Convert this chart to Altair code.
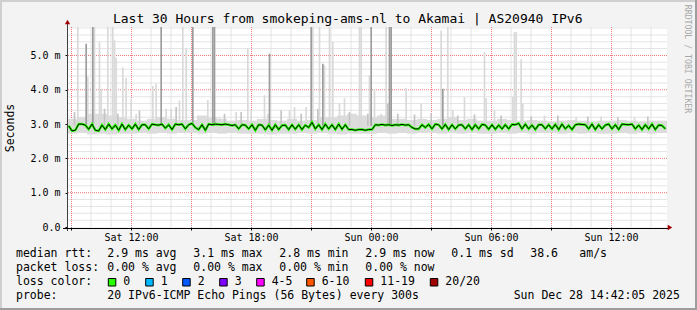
import altair as alt
import pandas as pd

FONT = "DejaVu Sans Mono"
W, H = 600, 200          # plot area (px)
LEFT, TOP = 67, 27       # plot origin inside the 697x310 page
X_MAX = 1800             # minutes since Sat 08:48 (30 hours)
Y_MAX = 5.83             # ms

# ---------------- text ----------------
title_text = "Last 30 Hours from smokeping-ams-nl to Akamai | AS20940 IPv6"
y_title = "Seconds"
side_text = "RRDTOOL / TOBI OETIKER"

tick_minutes = [12, 192, 372, 552, 732, 912, 1092, 1272, 1452, 1632]
tick_labels = ["", "Sat 12:00", "", "Sat 18:00", "", "Sun 00:00", "", "Sun 06:00", "", "Sun 12:00"]
y_ticks = [0, 1, 2, 3, 4, 5]
y_labels = ["0.0", "1.0 m", "2.0 m", "3.0 m", "4.0 m", "5.0 m"]

# legend rows: (text, absolute x, absolute y-center)
legend_items = [
    ("median rtt:", 16, 254), ("2.9 ms avg", 107.3, 254), ("3.1 ms max", 193.3, 254),
    ("2.8 ms min", 279.3, 254), ("2.9 ms now", 365.3, 254), ("0.1 ms sd", 451.3, 254),
    ("38.6", 530.3, 254), ("am/s", 579.3, 254),
    ("packet loss:", 16, 268), ("0.00 % avg", 107.3, 268), ("0.00 % max", 193.3, 268),
    ("0.00 % min", 279.3, 268), ("0.00 % now", 365.3, 268),
    ("loss color:", 16, 282),
    ("probe:", 16, 296), ("20 IPv6-ICMP Echo Pings (56 Bytes) every 300s", 107.3, 296),
    ("Sun Dec 28 14:42:05 2025", 513.7, 296),
]
loss_labels = ["0", "1", "2", "3", "4-5", "6-10", "11-19", "20/20"]
loss_colors = ["#26ff00", "#00b8ff", "#0059ff", "#7e00ff", "#ff00ff", "#ff5500", "#ff0000", "#a10000"]
loss_box_x = [108.3, 145.7, 182.7, 219.7, 256.7, 306.7, 365.3, 430.3]

# ---------------- data ----------------
# median rtt (ms), one value per 10 minutes
median = [
    2.95, 2.80, 2.82, 3.00, 3.00, 2.97, 2.85, 3.00, 2.82, 2.80, 2.97, 2.84, 3.00, 2.86, 2.97, 2.82, 3.00, 2.84,
    2.97, 2.86, 3.00, 2.84, 2.98, 2.98, 2.86, 3.00, 2.98, 2.97, 3.00, 2.88, 2.98, 2.84, 3.00, 2.98, 3.00, 2.86,
    2.98, 3.02, 2.90, 2.84, 2.98, 2.82, 3.00, 2.98, 3.00, 2.99, 2.98, 3.00, 2.98, 2.96, 2.98, 2.86, 2.98, 2.97,
    2.86, 2.98, 2.82, 2.98, 2.97, 2.83, 2.97, 2.82, 2.98, 2.84, 2.96, 2.97, 2.84, 2.98, 2.85, 2.98, 2.84, 2.97,
    2.90, 3.05, 2.86, 2.98, 2.84, 3.00, 2.86, 2.98, 2.84, 3.00, 2.85, 2.98, 2.84, 2.84, 2.82, 2.84, 2.84, 2.82,
    2.84, 2.84, 2.98, 2.97, 2.99, 2.97, 2.98, 2.96, 2.98, 2.97, 2.99, 2.97, 2.98, 2.90, 2.86, 2.86, 2.98, 2.90,
    2.99, 2.86, 3.00, 2.98, 2.86, 2.99, 2.84, 2.98, 2.86, 2.97, 2.98, 2.86, 2.98, 2.84, 2.98, 2.86, 2.99, 2.97,
    2.85, 2.98, 2.85, 2.97, 2.86, 2.98, 2.86, 2.99, 2.98, 3.02, 2.86, 3.00, 2.86, 2.97, 2.84, 2.98, 2.98, 2.86,
    2.98, 2.86, 2.99, 2.84, 3.00, 2.86, 2.96, 2.84, 2.98, 3.00, 2.99, 2.98, 2.86, 3.00, 2.84, 2.98, 2.86, 2.97,
    3.00, 2.86, 2.98, 2.84, 3.00, 2.99, 2.98, 3.00, 2.86, 2.97, 2.84, 2.98, 2.86, 3.00, 2.84, 2.97, 2.96, 2.86,
]
# smoke band (min..max of pings), one value per 30 minutes
band_hi = [
    3.15, 3.20, 3.30, 3.30, 3.25, 3.20,
    3.15, 3.10, 3.15, 3.20, 3.15, 3.12,
    3.12, 3.25, 3.20, 3.15, 3.10, 3.12,
    3.10, 3.15, 3.12, 3.10, 3.15, 3.10,
    3.12, 3.20, 3.20, 3.25, 3.30, 3.25,
    3.20, 3.25, 3.15, 3.15, 3.12, 3.15,
    3.12, 3.15, 3.20, 3.12, 3.15, 3.10,
    3.10, 3.15, 3.12, 3.10, 3.12, 3.10,
    3.08, 3.10, 3.12, 3.10, 3.08, 3.10,
    3.10, 3.12, 3.10, 3.08, 3.10, 3.10,
]
band_lo = [
    2.72, 2.74, 2.70, 2.72, 2.70, 2.72,
    2.72, 2.74, 2.72, 2.74, 2.72, 2.74,
    2.74, 2.72, 2.74, 2.72, 2.74, 2.72,
    2.72, 2.72, 2.70, 2.72, 2.72, 2.74,
    2.72, 2.74, 2.72, 2.70, 2.72, 2.72,
    2.72, 2.74, 2.72, 2.74, 2.72, 2.74,
    2.74, 2.72, 2.74, 2.72, 2.74, 2.72,
    2.72, 2.74, 2.72, 2.74, 2.72, 2.74,
    2.74, 2.72, 2.74, 2.72, 2.74, 2.72,
    2.72, 2.74, 2.72, 2.74, 2.72, 2.74,
]
# smoke spikes: start minute (5-minute step), top value (ms), shade
spike_t = [30, 55, 60, 75, 80, 95, 100, 120, 135, 140, 145, 165, 175, 190, 205, 255, 265, 280,
           295, 310, 335, 345, 355, 375, 420, 435, 440, 455, 505, 540, 550, 590, 600, 605,
           665, 680, 715, 730, 735, 755, 765, 770, 785, 795, 815, 830, 875, 880, 905, 910,
           920, 940, 955, 960, 965, 970, 1015, 1060, 1120, 1125, 1140, 1155, 1190, 1250,
           1255, 1280, 1335, 1340, 1345, 1360, 1365, 1525, 1430, 1600, 1700,
           20, 110, 150, 215, 325, 470, 520, 640, 700, 750, 845, 900, 990, 1040, 1090, 1170,
           1220, 1300, 1390, 1470, 1560, 1650, 1740]
spike_top = [5.90, 5.34, 4.38, 5.90, 5.90, 5.39, 4.03, 5.90, 5.90, 5.44, 4.93, 4.66, 4.34, 3.74, 3.30, 4.11, 4.18, 5.90,
             3.45, 3.45, 3.69, 5.90, 5.20, 5.90, 3.70, 5.90, 5.90, 3.20, 3.35, 5.20, 3.40, 3.84, 3.30, 5.05,
             3.40, 3.50, 3.50, 5.90, 5.90, 5.90, 4.76, 4.71, 5.90, 5.39, 3.60, 3.75, 5.90, 5.90, 4.42, 5.90,
             4.03, 3.30, 5.90, 3.60, 5.90, 5.90, 4.05, 3.60, 5.73, 4.03, 5.90, 3.40, 3.78, 5.10,
             3.75, 3.40, 3.80, 5.68, 5.68, 4.89, 3.60, 3.20, 3.25, 3.22, 3.20,
             3.35, 3.45, 3.30, 3.40, 3.50, 3.30, 3.35, 3.40, 3.30, 3.45, 3.35, 3.30, 3.30, 3.28,
             3.30, 3.25, 3.28, 3.25, 3.22, 3.25, 3.22, 3.20, 3.22]
spike_shade = ["L", "D", "L", "D", "L", "L", "L", "L", "L", "L", "L", "L", "L", "L", "L", "L", "L", "D",
               "L", "L", "L", "L", "L", "D", "L", "D", "D", "L", "L", "L", "L", "L", "L", "D",
               "L", "L", "L", "D", "L", "L", "D", "L", "L", "L", "L", "L", "L", "L", "L", "D",
               "L", "L", "L", "M", "D", "D", "L", "L", "L", "D", "L", "L", "L", "L",
               "L", "L", "L", "L", "L", "L", "L", "L", "L", "L", "L",
               "M", "M", "M", "M", "M", "M", "M", "M", "M", "M", "M", "M", "M", "M",
               "M", "M", "M", "M", "M", "M", "M", "M", "M"]
shade_colors = {"L": "#d9d9d9", "M": "#c4c4c4", "D": "#9c9c9c"}
SPIKE_BASE = 2.95

# ---------------- frames ----------------
med_df = pd.DataFrame({"t": [10 * i + 5 for i in range(len(median))], "v": median})
band_df = pd.DataFrame({"t": [30 * i for i in range(len(band_hi))], "hi": band_hi, "lo": band_lo})
band_df["t2"] = band_df["t"] + 30
spk_df = pd.DataFrame({"t": spike_t, "top": spike_top,
                       "col": [shade_colors[s] for s in spike_shade]})
spk_df["t2"] = spk_df["t"] + 5
spk_df["base"] = SPIKE_BASE
spk_df["ord"] = spk_df["col"].map({"#d9d9d9": 0, "#c4c4c4": 1, "#9c9c9c": 2})

xs = alt.Scale(domain=[0, X_MAX], nice=False, zero=False)
ys = alt.Scale(domain=[0, Y_MAX], nice=False, zero=True)


def label_expr(vals, labs):
    e = "''"
    for v, l in reversed(list(zip(vals, labs))):
        e = f"datum.value == {v} ? '{l}' : " + e
    return e


GRID_G = "#dadada"
GRID_R = "#f07878"

# grid (positions: hourly / 3-hourly, 0.2 ms / 1 ms)
vminor = pd.DataFrame({"t": [12 + 60 * k for k in range(30) if k % 3 != 0]})
vmajor = pd.DataFrame({"t": [12 + 180 * k for k in range(10)]})
hminor = pd.DataFrame({"v": [round(0.2 * k, 1) for k in range(1, 30) if k % 5 != 0]})
hmajor = pd.DataFrame({"v": [1, 2, 3, 4, 5]})

g1 = alt.Chart(vminor).mark_tick(color=GRID_G, thickness=1, size=H, orient="vertical").encode(
    x=alt.X("t:Q", scale=xs, axis=None), y=alt.value(H / 2))
g2 = alt.Chart(hminor).mark_tick(color=GRID_G, thickness=1, size=W, orient="horizontal").encode(
    y=alt.Y("v:Q", scale=ys, axis=None), x=alt.value(W / 2))
g3 = alt.Chart(vmajor).mark_rule(stroke=GRID_R, strokeDash=[1, 1], strokeWidth=1, xOffset=0.5).encode(
    x=alt.X("t:Q", scale=xs, axis=None))
g4 = alt.Chart(hmajor).mark_rule(stroke=GRID_R, strokeDash=[1, 1], strokeWidth=1).encode(
    y=alt.Y("v:Q", scale=ys, axis=None))

band = alt.Chart(band_df).mark_rect(color="#dcdcdc", clip=True).encode(
    x=alt.X("t:Q", scale=xs, axis=None), x2="t2:Q",
    y=alt.Y("lo:Q", scale=ys, axis=None), y2="hi:Q")

spikes = alt.Chart(spk_df).mark_rect(clip=True).encode(
    x=alt.X("t:Q", scale=xs, axis=None), x2="t2:Q",
    y=alt.Y("base:Q", scale=ys, axis=None), y2="top:Q",
    color=alt.Color("col:N", scale=None),
    order=alt.Order("ord:Q"))

med_green = alt.Chart(med_df).mark_line(color="#26ff00", strokeWidth=2.5, interpolate="linear").encode(
    x=alt.X("t:Q", scale=xs, axis=None), y=alt.Y("v:Q", scale=ys, axis=None))
med_black = alt.Chart(med_df).mark_line(color="#000000", strokeWidth=1, interpolate="linear").encode(
    x=alt.X("t:Q", scale=xs, axis=None), y=alt.Y("v:Q", scale=ys, axis=None))

# axes (ticks + labels)
axis_df = pd.DataFrame({"t": [0], "v": [0]})
x_axis = alt.Chart(axis_df).mark_point(opacity=0).encode(
    x=alt.X("t:Q", scale=xs, axis=alt.Axis(
        values=tick_minutes, labelExpr=label_expr(tick_minutes, tick_labels),
        grid=False, domain=False, tickSize=3, tickColor="#000", labelPadding=2,
        labelFont=FONT, labelFontSize=10, labelColor="#000", title=None, labelOverlap=False,
        labelFlush=False)),
    y=alt.Y("v:Q", scale=ys, axis=alt.Axis(
        values=y_ticks, labelExpr=label_expr(y_ticks, y_labels),
        grid=False, domain=False, tickSize=2, tickColor="#000", labelPadding=5,
        labelFont=FONT, labelFontSize=10, labelColor="#000", title=None, labelOverlap=False,
        labelFlush=False)))

one = alt.InlineData(values=[{"a": 0}])


def txt(s, x, y, size=11.5, align="left", color="#000", angle=0):
    return alt.Chart(one).mark_text(text=s, font=FONT, fontSize=size, align=align,
                                    baseline="middle", color=color, angle=angle).encode(
        x=alt.value(x - LEFT), y=alt.value(y - TOP))


def rule(x1, y1, x2, y2, color, w=1):
    return alt.Chart(one).mark_rule(color=color, strokeWidth=w).encode(
        x=alt.value(x1 - LEFT), x2=alt.value(x2 - LEFT),
        y=alt.value(y1 - TOP), y2=alt.value(y2 - TOP))


layers = [g1, g2, g3, g4, band, spikes, med_green, med_black, x_axis]
# axis lines and arrows
layers.append(rule(67.5, 22, 67.5, 231, "#404040"))
layers.append(rule(63, 228.5, 668, 228.5, "#000000"))
layers.append(alt.Chart(one).mark_point(shape="triangle-up", filled=True, size=28, color="#a00000",
                                        opacity=1).encode(x=alt.value(0.5), y=alt.value(22 - TOP)))
layers.append(alt.Chart(one).mark_point(shape="triangle-right", filled=True, size=28, color="#a00000",
                                        opacity=1).encode(x=alt.value(670 - LEFT), y=alt.value(0.5 + H)))
# frame
layers.append(rule(0, 1, 697, 1, "#cfcfcf", 2))
layers.append(rule(1, 0, 1, 310, "#cfcfcf", 2))
layers.append(rule(0, 309, 697, 309, "#9e9e9e", 2))
layers.append(rule(696, 0, 696, 310, "#9e9e9e", 2))

# texts
layers.append(txt(title_text, 347.7, 19.3, size=13, align="center"))
layers.append(txt(y_title, 10.5, 128, size=11.5, align="center", angle=270))
layers.append(txt(side_text, 687.3, 59, size=8.2, align="center", color="#a8a8a8", angle=90))
for s, x, y in legend_items:
    layers.append(txt(s, x, y))

sw_df = pd.DataFrame({"x0": [x - LEFT for x in loss_box_x], "x1": [x - LEFT + 7.5 for x in loss_box_x],
                      "y0": [278.5 - TOP] * 8, "y1": [286 - TOP] * 8, "col": loss_colors})
layers.append(alt.Chart(sw_df).mark_rect(stroke="#000", strokeWidth=1).encode(
    x=alt.X("x0:Q", scale=None, axis=None), x2="x1:Q",
    y=alt.Y("y0:Q", scale=None, axis=None), y2="y1:Q",
    fill=alt.Fill("col:N", scale=None)))
for lab, x in zip(loss_labels, loss_box_x):
    layers.append(txt(lab, x + 15, 282))

chart = alt.layer(*layers).resolve_scale(x="independent", y="independent").properties(
    width=W, height=H,
    autosize=alt.AutoSizeParams(type="none"),
    padding={"left": LEFT, "top": TOP, "right": 697 - LEFT - W, "bottom": 310 - TOP - H},
    background="#f3f3f3",
).configure_view(fill="#ffffff", stroke=None)

chart.save("out.html", embed_options={"renderer": "svg", "actions": False})
